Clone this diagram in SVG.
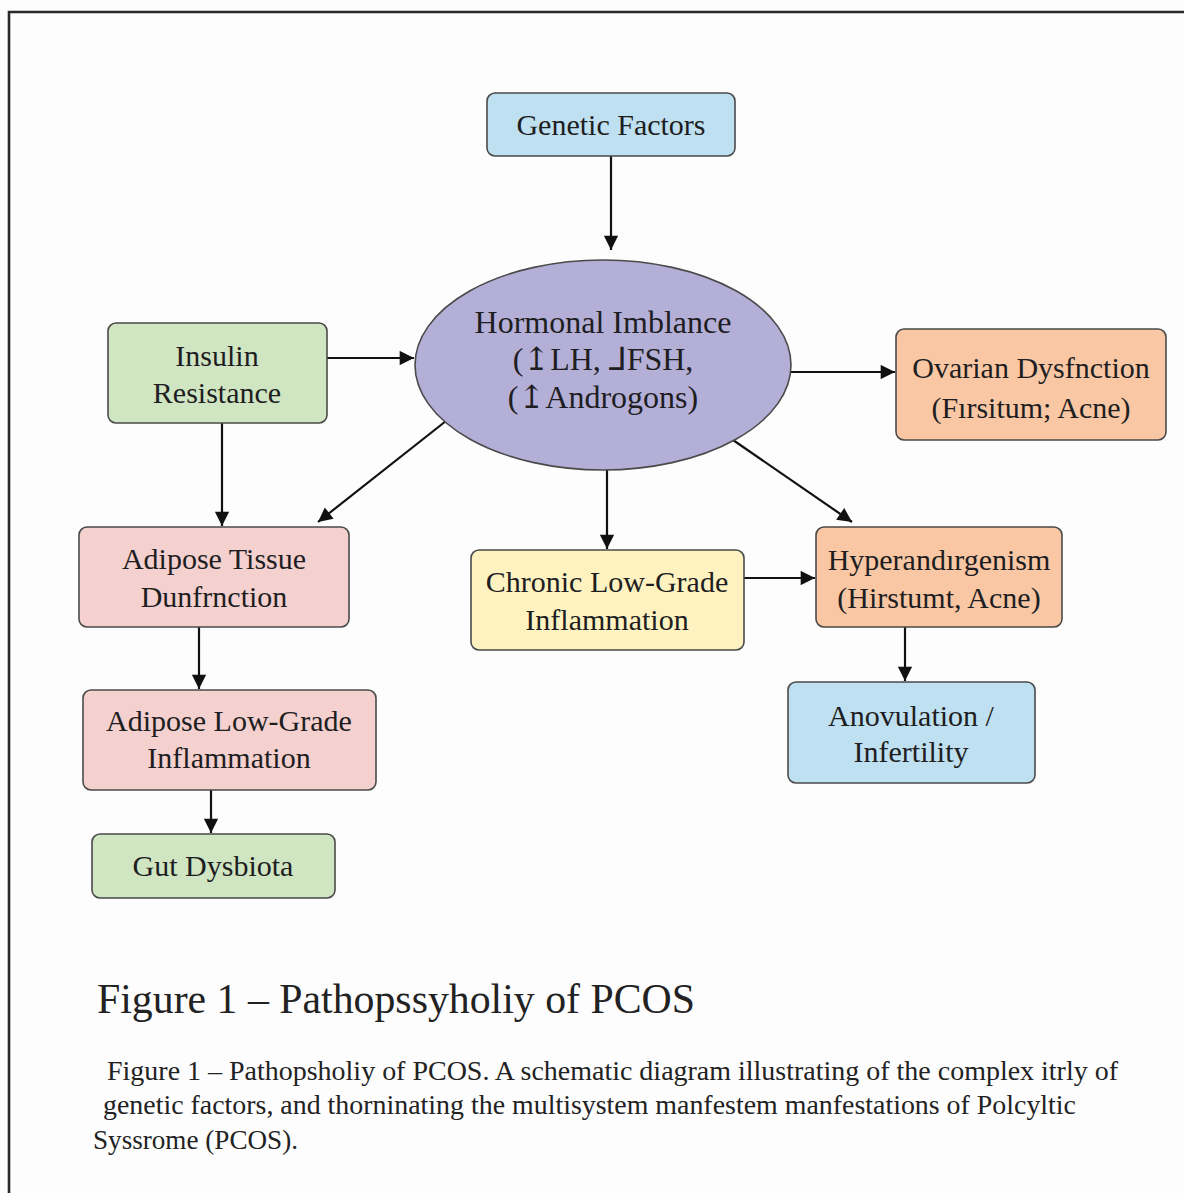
<svg xmlns="http://www.w3.org/2000/svg" width="1184" height="1193" viewBox="0 0 1184 1193">
  <style>
    .box { stroke: #4a4a4a; stroke-width: 1.6; }
    .lbl { font-family: "Liberation Serif", "DejaVu Serif", serif; font-size: 30px; fill: #1e1e22; text-anchor: middle; }
    .big { font-size: 32px; }
    .edge { stroke: #111; stroke-width: 2.2; fill: none; marker-end: url(#arrow); }
    .blue { fill: #bfe0f1; }
    .green { fill: #d0e5c2; }
    .pink { fill: #f4d0cf; }
    .peach { fill: #f9c7a3; }
    .yellow { fill: #fdf2c0; }
    .cap { font-family: "Liberation Serif", "DejaVu Serif", serif; fill: #222; }
  </style>
  <defs>
    <marker id="arrow" viewBox="0 0 10 10" refX="10" refY="5" markerWidth="7" markerHeight="6.5" markerUnits="strokeWidth" orient="auto">
      <path d="M0,0 L10,5 L0,10 z" fill="#111"/>
    </marker>
  </defs>

  <rect width="1184" height="1193" fill="#fdfdfd"/>
  <!-- page frame -->
  <path d="M9,1193 V12 H1184" fill="none" stroke="#2a2a2a" stroke-width="2.6"/>

  <g id="connectors">
    <line class="edge" x1="611" y1="156" x2="611" y2="250"/>
    <line class="edge" x1="327" y1="358" x2="414" y2="358"/>
    <line class="edge" x1="790" y1="372" x2="895" y2="372"/>
    <line class="edge" x1="222" y1="423" x2="222" y2="526"/>
    <line class="edge" x1="446" y1="421" x2="318" y2="522"/>
    <line class="edge" x1="607" y1="470" x2="607" y2="549"/>
    <line class="edge" x1="733" y1="440" x2="852" y2="522"/>
    <line class="edge" x1="744" y1="578" x2="815" y2="578"/>
    <line class="edge" x1="199" y1="627" x2="199" y2="689"/>
    <line class="edge" x1="905" y1="627" x2="905" y2="681"/>
    <line class="edge" x1="211" y1="790" x2="211" y2="833"/>
  </g>

  <g id="genetic-factors">
    <rect class="box blue" x="487" y="93" width="248" height="63" rx="8"/>
    <text class="lbl" x="611" y="135">Genetic Factors</text>
  </g>

  <g id="hormonal-imbalance">
    <ellipse class="box" cx="603" cy="365" rx="188" ry="105" fill="#b4afd7"/>
    <text class="lbl big" x="603" y="333">Hormonal Imblance</text>
    <text class="lbl big" x="603" y="370">(↥LH, ⅃FSH,</text>
    <text class="lbl big" x="603" y="408">(↥Androgons)</text>
  </g>

  <g id="insulin-resistance">
    <rect class="box green" x="108" y="323" width="219" height="100" rx="8"/>
    <text class="lbl" x="217" y="366">Insulin</text>
    <text class="lbl" x="217" y="403">Resistance</text>
  </g>

  <g id="ovarian-dysfunction">
    <rect class="box peach" x="896" y="329" width="270" height="111" rx="8"/>
    <text class="lbl" x="1031" y="378">Ovarian Dysfnction</text>
    <text class="lbl" x="1031" y="418">(Fırsitum; Acne)</text>
  </g>

  <g id="adipose-tissue">
    <rect class="box pink" x="79" y="527" width="270" height="100" rx="8"/>
    <text class="lbl" x="214" y="569">Adipose Tissue</text>
    <text class="lbl" x="214" y="607">Dunfrnction</text>
  </g>

  <g id="chronic-inflammation">
    <rect class="box yellow" x="471" y="550" width="273" height="100" rx="8"/>
    <text class="lbl" x="607" y="592">Chronic Low-Grade</text>
    <text class="lbl" x="607" y="630">Inflammation</text>
  </g>

  <g id="hyperandrogenism">
    <rect class="box peach" x="816" y="527" width="246" height="100" rx="8"/>
    <text class="lbl" x="939" y="570">Hyperandırgenism</text>
    <text class="lbl" x="939" y="608">(Hirstumt, Acne)</text>
  </g>

  <g id="adipose-inflammation">
    <rect class="box pink" x="83" y="690" width="293" height="100" rx="8"/>
    <text class="lbl" x="229" y="731">Adipose Low-Grade</text>
    <text class="lbl" x="229" y="768">Inflammation</text>
  </g>

  <g id="anovulation">
    <rect class="box blue" x="788" y="682" width="247" height="101" rx="8"/>
    <text class="lbl" x="911" y="726">Anovulation /</text>
    <text class="lbl" x="911" y="762">Infertility</text>
  </g>

  <g id="gut-dysbiota">
    <rect class="box green" x="92" y="834" width="243" height="64" rx="8"/>
    <text class="lbl" x="213" y="876">Gut Dysbiota</text>
  </g>

  <!-- figure title and caption -->
  <text class="cap" x="97" y="1013" font-size="42" textLength="598" lengthAdjust="spacingAndGlyphs">Figure 1 – Pathopssyholiy of PCOS</text>
  <text class="cap" x="107" y="1080" font-size="27" textLength="1011" lengthAdjust="spacingAndGlyphs">Figure 1 – Pathopsholiy of PCOS. A schematic diagram illustrating of the complex itrly of</text>
  <text class="cap" x="103" y="1114" font-size="27" textLength="973" lengthAdjust="spacingAndGlyphs">genetic factors, and thorninating the multisystem manfestem manfestations of Polcyltic</text>
  <text class="cap" x="93" y="1149" font-size="27" textLength="205" lengthAdjust="spacingAndGlyphs">Syssrome (PCOS).</text>
</svg>
